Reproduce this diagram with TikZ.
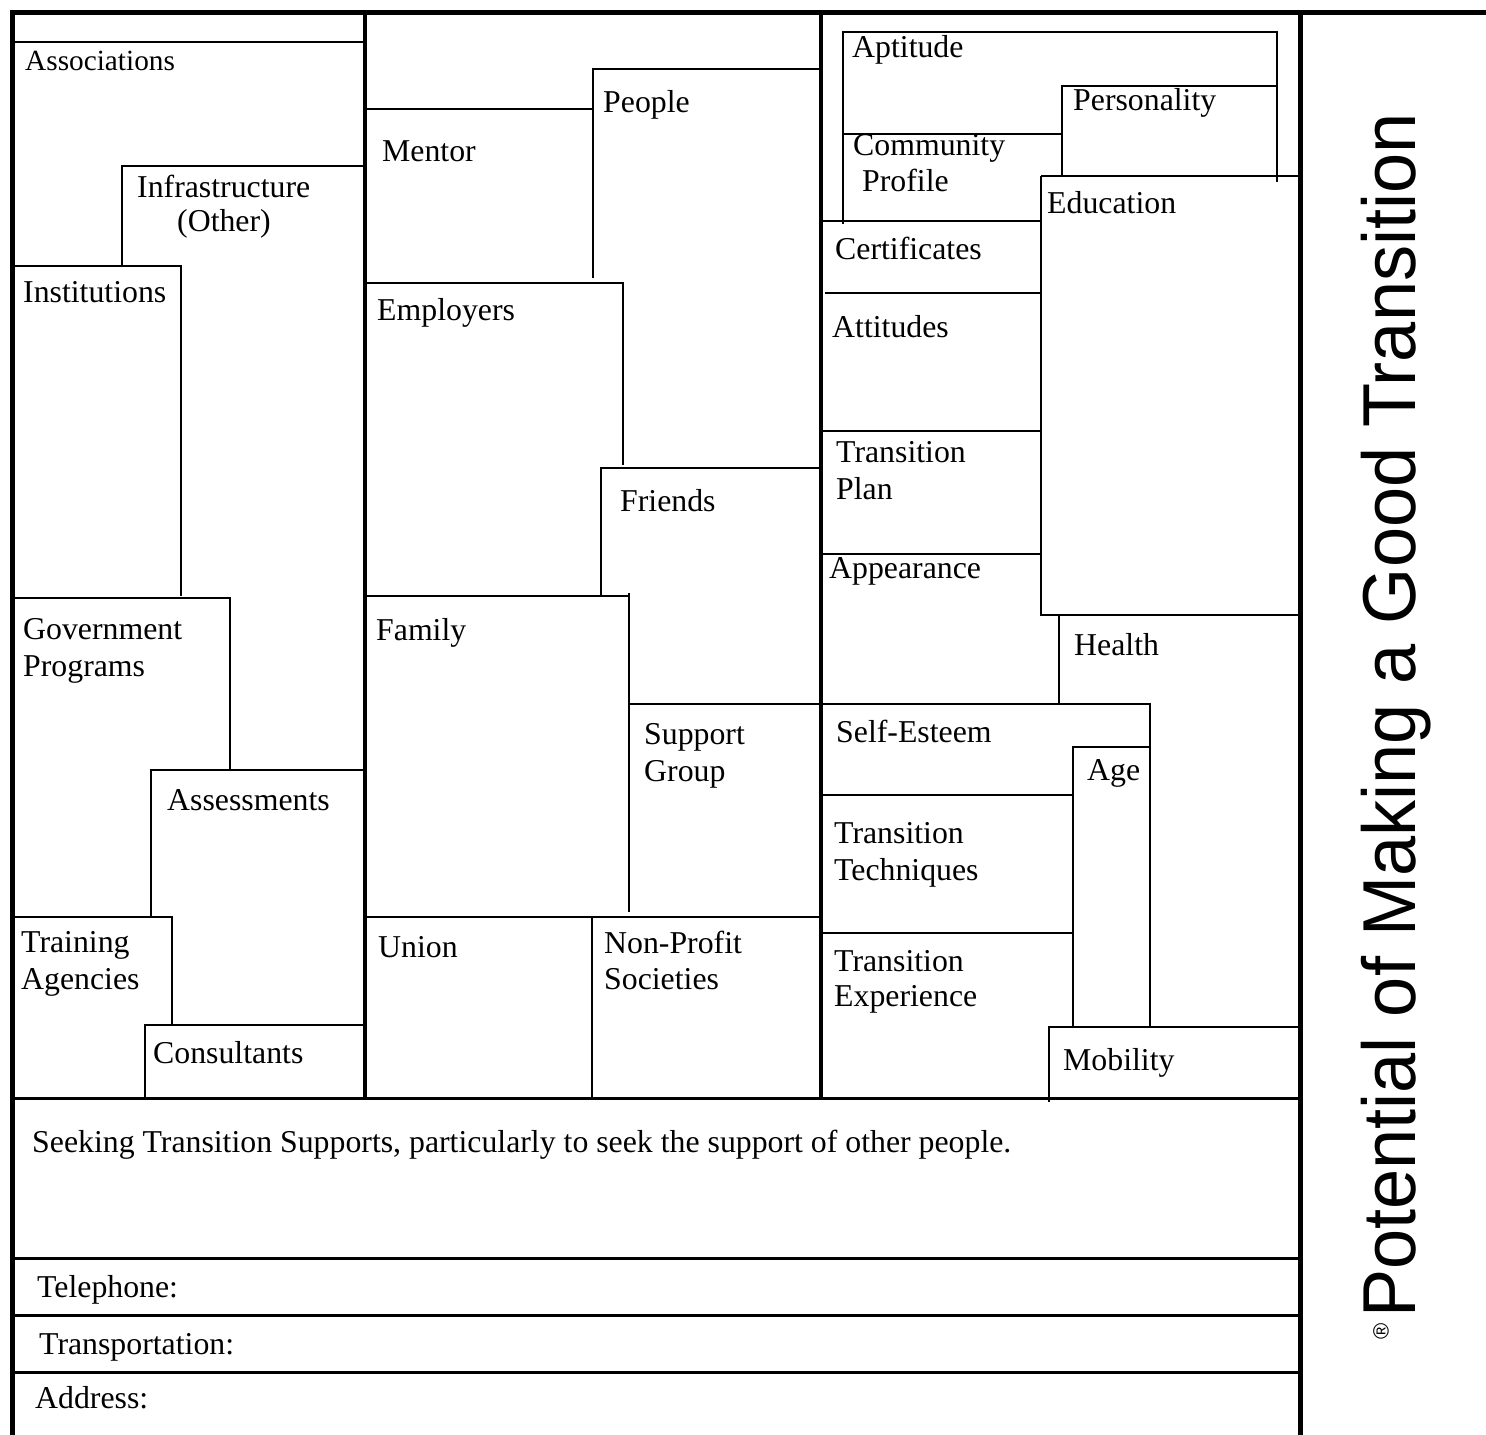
\documentclass[tikz,border=0pt]{standalone}
\usepackage{fontspec}
\setmainfont{Liberation Serif}
\newfontfamily\titlefont[FakeStretch=0.962]{Liberation Sans}
\newfontfamily\regfont{Liberation Sans}
\begin{document}
\begin{tikzpicture}[x=1pt,y=-1pt,
  frame/.style={line width=4.5pt},
  divider/.style={line width=4pt},
  inner/.style={line width=2pt},
  rowline/.style={line width=3pt},
  lbl/.style={anchor=base west, inner sep=0pt, font=\fontsize{31.8}{36}\selectfont},
  smalllbl/.style={anchor=base west, inner sep=0pt, font=\fontsize{29.3}{34}\selectfont}]
\useasboundingbox (0,0) rectangle (1486,1435);
% outer frame
\draw[frame] (12.5,1435) -- (12.5,12.5) -- (1486,12.5);
\draw[frame] (1300.5,12.5) -- (1300.5,1435);
\draw[divider] (364.5,12.5) -- (364.5,1098);
\draw[divider] (821,12.5) -- (821,1098);
\draw[rowline] (12.5,1098.5) -- (1300.5,1098.5);
\draw[rowline] (12.5,1258) -- (1300.5,1258);
\draw[rowline] (12.5,1315.5) -- (1300.5,1315.5);
\draw[rowline] (12.5,1372.5) -- (1300.5,1372.5);
% column 1
\draw[inner] (13,42) -- (363,42);
\draw[inner] (122,266) -- (122,166) -- (363,166);
\draw[inner] (13,266) -- (181,266) -- (181,596);
\draw[inner] (13,598) -- (230,598) -- (230,770);
\draw[inner] (151,916) -- (151,770) -- (363,770);
\draw[inner] (13,916.5) -- (172,916.5) -- (172,1024);
\draw[inner] (145,1098) -- (145,1024.5) -- (363,1024.5);
% column 2
\draw[inner] (366,109) -- (593,109);
\draw[inner] (593,278) -- (593,69) -- (820,69);
\draw[inner] (366,283) -- (623,283) -- (623,465);
\draw[inner] (601,596) -- (601,467.5) -- (820,467.5);
\draw[inner] (366,596) -- (629,596);
\draw[inner] (629,593) -- (629,912);
\draw[inner] (629,704) -- (820,704);
\draw[inner] (366,916.5) -- (820,916.5);
\draw[inner] (592,916.5) -- (592,1098);
% column 3
\draw[inner] (843,224) -- (843,32) -- (1277,32) -- (1277,182);
\draw[inner] (843,134) -- (1062,134);
\draw[inner] (1062,176) -- (1062,86) -- (1277,86);
\draw[inner] (1041,176) -- (1300,176);
\draw[inner] (1041,176) -- (1041,614.5) -- (1300,614.5);
\draw[inner] (822,221) -- (1041,221);
\draw[inner] (825,293) -- (1041,293);
\draw[inner] (822,431) -- (1041,431);
\draw[inner] (822,554) -- (1041,554);
\draw[inner] (1059,615) -- (1059,703.5);
\draw[inner] (822,703.5) -- (1150,703.5) -- (1150,1027);
\draw[inner] (1073,1027) -- (1073,747) -- (1150,747);
\draw[inner] (822,795) -- (1073,795);
\draw[inner] (822,933) -- (1073,933);
\draw[inner] (1049,1102) -- (1049,1027) -- (1300,1027);
% labels column 1
\node[smalllbl] (assoc) at (25,70) {Associations};
\node[lbl] (infra) at (137,197) {Infrastructure};
\node[lbl] (other) at (177,231) {(Other)};
\node[lbl] (inst) at (23,302) {Institutions};
\node[lbl] (gov1) at (23,639) {Government};
\node[lbl] (gov2) at (23,676) {Programs};
\node[lbl] (assess) at (167,810) {Assessments};
\node[lbl] (train1) at (21,952) {Training};
\node[lbl] (train2) at (21,989) {Agencies};
\node[lbl] (consult) at (153,1063) {Consultants};
% labels column 2
\node[lbl] (mentor) at (382,161) {Mentor};
\node[lbl] (people) at (603,112) {People};
\node[lbl] (employers) at (377,320) {Employers};
\node[lbl] (friends) at (620,511) {Friends};
\node[lbl] (family) at (376,640) {Family};
\node[lbl] (supp1) at (644,744) {Support};
\node[lbl] (supp2) at (644,781) {Group};
\node[lbl] (union) at (378,957) {Union};
\node[lbl] (npo1) at (604,953) {Non-Profit};
\node[lbl] (npo2) at (604,989) {Societies};
% labels column 3
\node[lbl] (aptitude) at (852,57) {Aptitude};
\node[lbl] (personality) at (1073,110) {Personality};
\node[lbl] (comm1) at (853,155) {Community};
\node[lbl] (comm2) at (862,191) {Profile};
\node[lbl] (education) at (1047,213) {Education};
\node[lbl] (certs) at (835,259) {Certificates};
\node[lbl] (attitudes) at (832,337) {Attitudes};
\node[lbl] (plan1) at (836,462) {Transition};
\node[lbl] (plan2) at (836,499) {Plan};
\node[lbl] (appearance) at (829,578) {Appearance};
\node[lbl] (health) at (1074,655) {Health};
\node[lbl] (selfesteem) at (836,742) {Self-Esteem};
\node[lbl] (age) at (1087,780) {Age};
\node[lbl] (tech1) at (834,843) {Transition};
\node[lbl] (tech2) at (834,880) {Techniques};
\node[lbl] (exp1) at (834,971) {Transition};
\node[lbl] (exp2) at (834,1006) {Experience};
\node[lbl] (mobility) at (1063,1070) {Mobility};
% bottom rows
\node[lbl] (seeking) at (32,1152) {Seeking Transition Supports, particularly to seek the support of other people.};
\node[lbl] (phone) at (37,1297) {Telephone:};
\node[lbl] (transport) at (39,1354) {Transportation:};
\node[lbl] (address) at (35,1408) {Address:};
% title
\node[rotate=90, anchor=base west, inner sep=0pt, font=\titlefont\fontsize{75}{75}\selectfont] (title) at (1415,1318) {Potential of Making a Good Transition};
\node[rotate=90, inner sep=0pt, font=\regfont\fontsize{22}{22}\selectfont] (reg) at (1381,1331) {®};
\end{tikzpicture}
\end{document}
